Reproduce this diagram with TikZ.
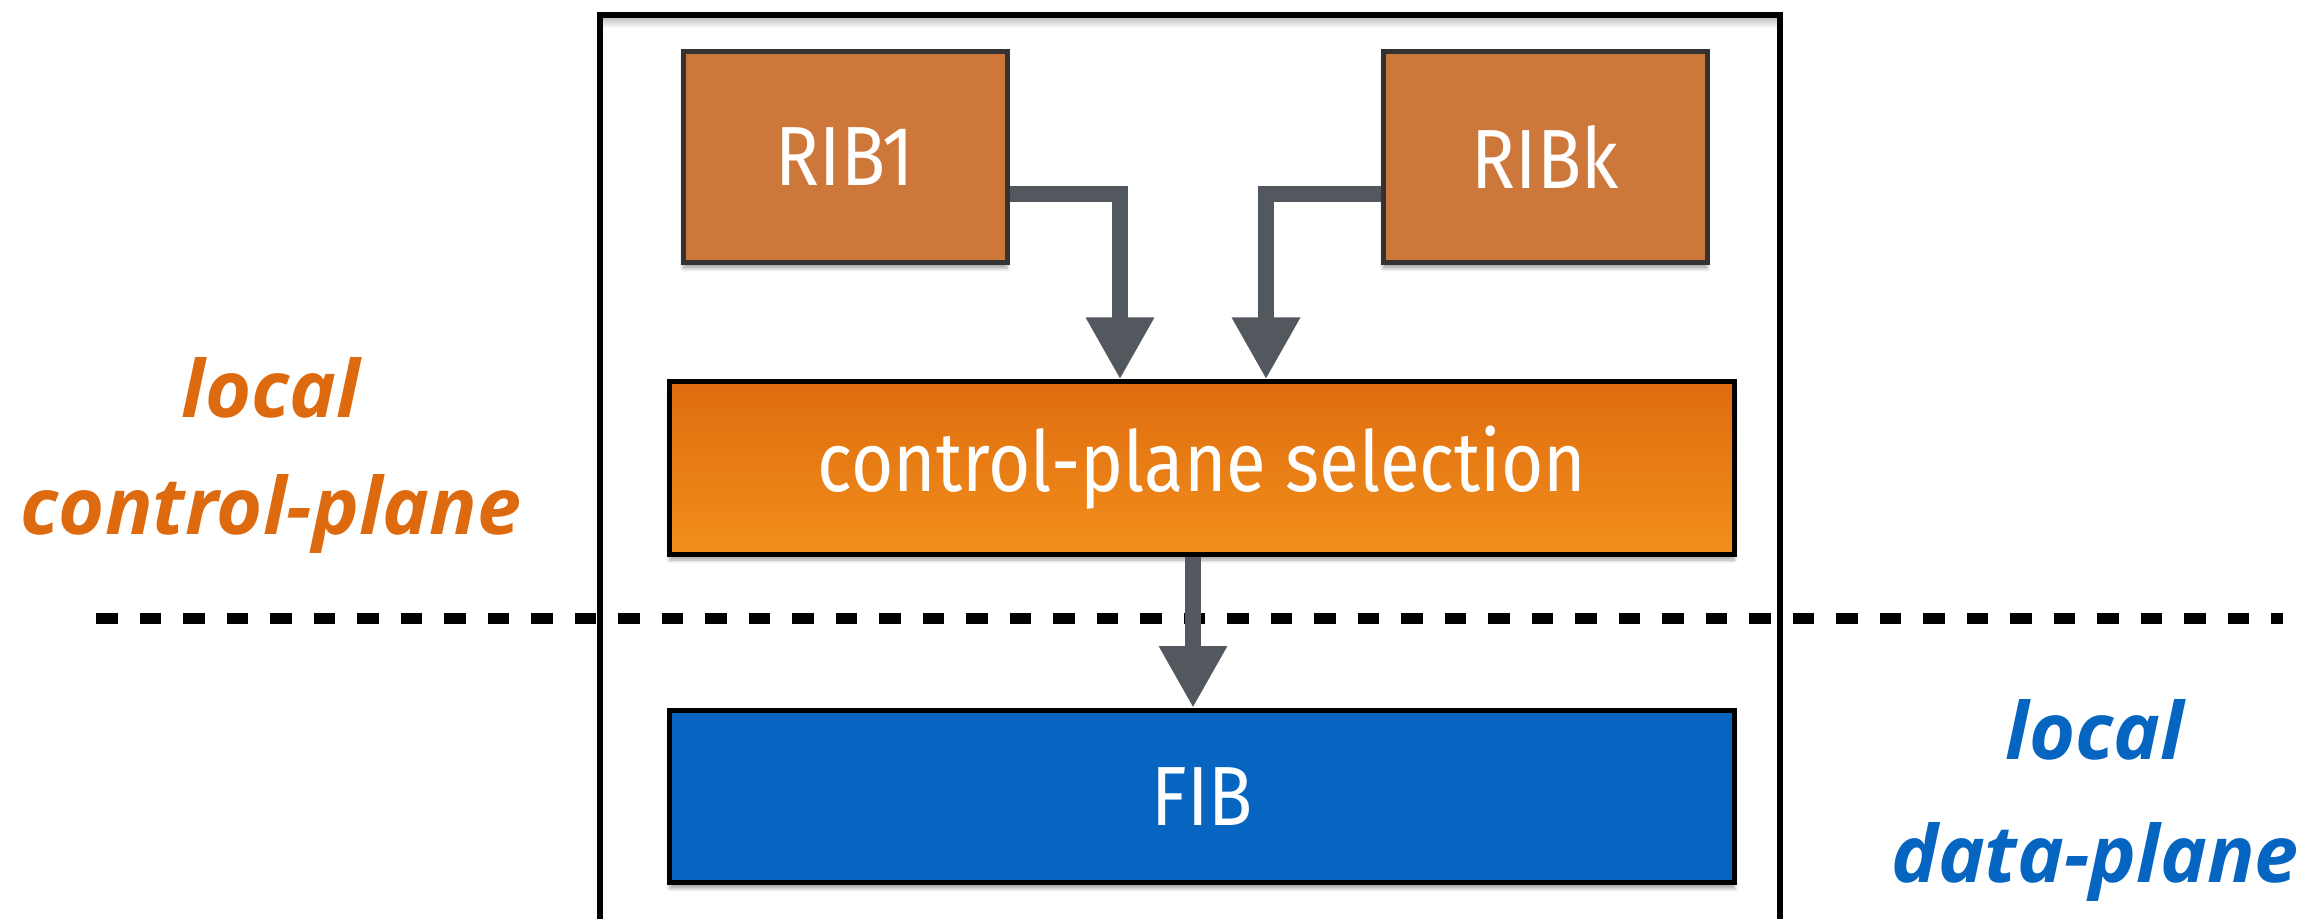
\documentclass[tikz,border=0pt]{standalone}
\usepackage{fontspec}
\usetikzlibrary{arrows.meta,shadows.blur}
\newfontfamily\boxfont{Fira Sans}[FakeStretch=0.865]
\newfontfamily\sidefont{Open Sans}

\definecolor{ribfill}{HTML}{CD773A}
\definecolor{ribedge}{HTML}{333333}
\definecolor{seltop}{HTML}{DF6C0F}
\definecolor{selbot}{HTML}{F18F1B}
\definecolor{fibfill}{HTML}{0565C0}
\definecolor{flowgray}{HTML}{53575E}
\definecolor{ctrlorange}{HTML}{DE6A10}
\definecolor{datablue}{HTML}{0565C0}

\tikzset{
  boxtext/.style={text=white, font=\boxfont\fontsize{42pt}{48pt}\selectfont},
  softshadow/.style={blur shadow={shadow xshift=0pt, shadow yshift=-3pt,
      shadow opacity=35, shadow blur steps=6}},
  ribbox/.style={draw=ribedge, line width=2.5pt, fill=ribfill, inner sep=0pt,
      minimum width=162pt, minimum height=105.5pt, softshadow, boxtext},
  widebox/.style={draw=black, line width=2.5pt, inner sep=0pt,
      minimum width=532.5pt, minimum height=86pt, softshadow, boxtext},
  flow/.style={draw=flowgray, line width=8pt,
      -{Triangle[length=31pt,width=32pt]}},
  planelabel/.style={anchor=base, font=\sidefont\bfseries\itshape\fontsize{39.5pt}{46pt}\selectfont},
  divider/.style={line width=5.5pt, dash pattern=on 10.75pt off 11pt},
}

\begin{document}
\begin{tikzpicture}[x=0.5pt, y=-0.5pt]
  \useasboundingbox (0,0) rectangle (2324,919);
  \clip (0,0) rectangle (2324,919);

  % boundary between control plane and data plane
  \coordinate (dl) at (96,618);
  \coordinate (dr) at (2283,618);
  \draw[divider] (dl) -- (dr);

  % router frame, open at the bottom edge
  \shade[top color=black!25, bottom color=white] (603,17) rectangle (1777,28);
  \draw[line width=2.8pt] (600,935) -- (600,15) -- (1780,15) -- (1780,935);

  % routing information bases
  \node[ribbox] (RIB1) at (845,157) {RIB1};
  \node[ribbox] (RIBk) at (1545,157) {RIBk};

  % selection and forwarding table
  \node[widebox, top color=seltop, bottom color=selbot] (sel) at (1202,468) {control-plane selection};
  \node[widebox, fill=fibfill] (FIB) at (1202,796.5) {FIB};

  % flows
  \coordinate (j1) at (1120,194);
  \coordinate (j2) at (1266,194);
  \coordinate (j3) at (1193,600);
  \draw[flow] (RIB1.east |- j1) -- (j1) -- (j1 |- sel.north);
  \draw[flow] (RIBk.west |- j2) -- (j2) -- (j2 |- sel.north);
  \draw[flow] (sel.south -| j3) -- (j3 |- FIB.north);

  % plane labels
  \node[planelabel, text=ctrlorange] (cl1) at (271,418) {local};
  \node[planelabel, text=ctrlorange] (cl2) at (271,534) {control-plane};
  \node[planelabel, text=datablue] (dl1) at (2095,759) {local};
  \node[planelabel, text=datablue] (dl2) at (2095,882) {data-plane};
\end{tikzpicture}
\end{document}
